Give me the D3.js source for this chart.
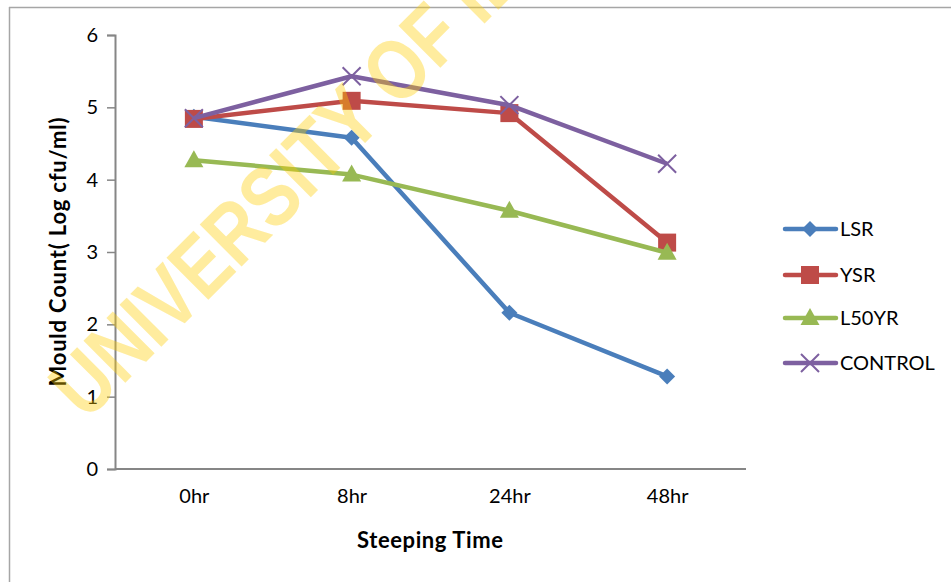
<!DOCTYPE html>
<html>
<head>
<meta charset="utf-8">
<script src="https://cdn.jsdelivr.net/npm/d3@7"></script>
<style>
  html, body { margin: 0; padding: 0; background: #fff; }
  svg { display: block; }
</style>
</head>
<body>
<svg id="chart" width="951" height="582"></svg>
<script>
const categories = ["0hr", "8hr", "24hr", "48hr"];
const seriesNames = ["LSR", "YSR", "L50YR", "CONTROL"];
const lsrValues = [4.87, 4.58, 2.16, 1.28];
const ysrValues = [4.84, 5.09, 4.92, 3.13];
const l50yrValues = [4.27, 4.07, 3.57, 2.99];
const controlValues = [4.85, 5.43, 5.03, 4.22];
const yTicks = [0, 1, 2, 3, 4, 5, 6];
const xTitle = "Steeping Time";
const yTitle = "Mould Count( Log cfu/ml)";
const watermark = "UNIVERSITY OF IBADAN";

const seriesValues = [lsrValues, ysrValues, l50yrValues, controlValues];
const colors = ["#4a7ebb", "#be4b48", "#98b954", "#7d60a0"];
const markerTypes = ["diamond", "square", "triangle", "x"];

const svg = d3.select("#chart");
const font = "Lato, 'Open Sans', sans-serif";

// outer frame
svg.append("line").attr("x1", 9).attr("x2", 951).attr("y1", 7.5).attr("y2", 7.5)
  .attr("stroke", "#a6a6a6").attr("stroke-width", 1.5);
svg.append("line").attr("x1", 9.5).attr("x2", 9.5).attr("y1", 7).attr("y2", 582)
  .attr("stroke", "#a6a6a6").attr("stroke-width", 1.5);

const x = d3.scalePoint().domain(categories).range([115, 746]).padding(0.5);
const y = d3.scaleLinear().domain([0, 6]).range([469, 35]);

// Y axis
const yAxis = d3.axisLeft(y).tickValues(yTicks).tickSize(8).tickPadding(9).tickFormat(d3.format("d"));
const gy = svg.append("g").attr("transform", "translate(115,0)").call(yAxis);
gy.select(".domain").attr("stroke", "#868686").attr("stroke-width", 2);
gy.selectAll(".tick line").attr("stroke", "#868686").attr("stroke-width", 1.5);
gy.selectAll(".tick text").attr("font-family", font).attr("font-size", 20).attr("fill", "#000");

// X axis
const xAxis = d3.axisBottom(x).tickSize(0).tickPadding(20);
const gx = svg.append("g").attr("transform", "translate(0,469)").call(xAxis);
gx.select(".domain").attr("stroke", "#868686").attr("stroke-width", 2).attr("d", "M115,0H746");
gx.selectAll(".tick text").attr("font-family", font).attr("font-size", 20).attr("fill", "#000");

// titles
svg.append("text").attr("x", 430).attr("y", 548).attr("text-anchor", "middle")
  .attr("font-family", font).attr("font-weight", "bold").attr("font-size", 22)
  .attr("textLength", 146).attr("lengthAdjust", "spacing").text(xTitle);
svg.append("text").attr("transform", "translate(66,252) rotate(-90)").attr("text-anchor", "middle")
  .attr("font-family", font).attr("font-weight", "bold").attr("font-size", 22)
  .attr("textLength", 269).attr("lengthAdjust", "spacing").text(yTitle);

function drawMarker(g, type, cx, cy, color) {
  if (type === "diamond") {
    g.append("path").attr("d", `M${cx},${cy-8}L${cx+8},${cy}L${cx},${cy+8}L${cx-8},${cy}Z`).attr("fill", color);
  } else if (type === "square") {
    g.append("rect").attr("x", cx - 9).attr("y", cy - 9).attr("width", 18).attr("height", 18).attr("fill", color);
  } else if (type === "triangle") {
    g.append("path").attr("d", `M${cx},${cy-10}L${cx+9.5},${cy+7}L${cx-9.5},${cy+7}Z`).attr("fill", color);
  } else if (type === "x") {
    g.append("path").attr("d", `M${cx-9},${cy-9}L${cx+9},${cy+9}M${cx-9},${cy+9}L${cx+9},${cy-9}`)
      .attr("stroke", color).attr("stroke-width", 2).attr("fill", "none");
  }
}

const line = d3.line().x((d, i) => x(categories[i])).y(d => y(d));

seriesValues.forEach((vals, si) => {
  const g = svg.append("g");
  g.append("path").datum(vals).attr("d", line).attr("fill", "none")
    .attr("stroke", colors[si]).attr("stroke-width", 4.5).attr("stroke-linejoin", "round");
  vals.forEach((v, i) => drawMarker(g, markerTypes[si], x(categories[i]), y(v), colors[si]));
});

// legend
const legendY = [229, 275, 318, 363];
seriesNames.forEach((name, si) => {
  const g = svg.append("g");
  const ly = legendY[si];
  g.append("line").attr("x1", 785).attr("x2", 836).attr("y1", ly).attr("y2", ly)
    .attr("stroke", colors[si]).attr("stroke-width", 4.5).attr("stroke-linecap", "round");
  drawMarker(g, markerTypes[si], 810, ly, colors[si]);
  g.append("text").attr("x", 840).attr("y", ly + 7).attr("font-family", font).attr("font-size", 20)
    .attr("fill", "#000").text(name);
});

// watermark
svg.append("text").attr("transform", "translate(86,422) rotate(-45) scale(0.82,1)")
  .attr("font-family", "'Liberation Sans', Arial, sans-serif").attr("font-weight", "bold")
  .attr("font-size", 86).attr("fill", "#ffcc00").attr("fill-opacity", 0.38).text(watermark);
</script>
</body>
</html>
